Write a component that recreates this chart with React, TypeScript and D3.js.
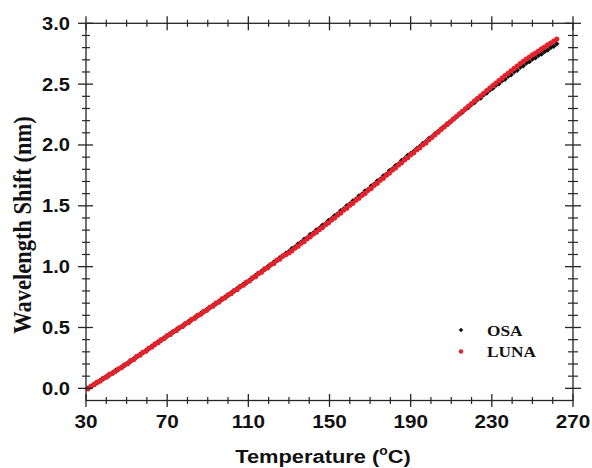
import React from "react";
import * as d3 from "d3";

const temps = [
  31, 32.5, 34, 35.5, 37, 38.5, 40, 41.5, 43, 44.5, 46, 47.5, 49, 50.5, 52, 53.5, 55, 56.5, 58, 59.5,
  61, 62.5, 64, 65.5, 67, 68.5, 70, 71.5, 73, 74.5, 76, 77.5, 79, 80.5, 82, 83.5, 85, 86.5, 88, 89.5,
  91, 92.5, 94, 95.5, 97, 98.5, 100, 101.5, 103, 104.5, 106, 107.5, 109, 110.5, 112, 113.5, 115, 116.5, 118, 119.5,
  121, 122.5, 124, 125.5, 127, 128.5, 130, 131.5, 133, 134.5, 136, 137.5, 139, 140.5, 142, 143.5, 145, 146.5, 148, 149.5,
  151, 152.5, 154, 155.5, 157, 158.5, 160, 161.5, 163, 164.5, 166, 167.5, 169, 170.5, 172, 173.5, 175, 176.5, 178, 179.5,
  181, 182.5, 184, 185.5, 187, 188.5, 190, 191.5, 193, 194.5, 196, 197.5, 199, 200.5, 202, 203.5, 205, 206.5, 208, 209.5,
  211, 212.5, 214, 215.5, 217, 218.5, 220, 221.5, 223, 224.5, 226, 227.5, 229, 230.5, 232, 233.5, 235, 236.5, 238, 239.5,
  241, 242.5, 244, 245.5, 247, 248.5, 250, 251.5, 253, 254.5, 256, 257.5, 259, 260.5, 262,
];

const osa = [
  0.002, 0.014, 0.035, 0.046, 0.066, 0.077, 0.098, 0.108, 0.129, 0.146, 0.155, 0.176, 0.187, 0.209, 0.221, 0.243, 0.256, 0.279, 0.29, 0.311,
  0.324, 0.347, 0.359, 0.382, 0.393, 0.415, 0.428, 0.45, 0.461, 0.484, 0.494, 0.515, 0.527, 0.549, 0.56, 0.582, 0.593, 0.615, 0.626, 0.648,
  0.66, 0.682, 0.694, 0.716, 0.728, 0.751, 0.763, 0.786, 0.797, 0.82, 0.832, 0.855, 0.866, 0.889, 0.903, 0.927, 0.939, 0.963, 0.976, 1.0,
  1.012, 1.037, 1.049, 1.074, 1.086, 1.111, 1.124, 1.149, 1.161, 1.187, 1.2, 1.226, 1.238, 1.264, 1.276, 1.302, 1.315, 1.341, 1.353, 1.379,
  1.393, 1.419, 1.432, 1.459, 1.473, 1.5, 1.514, 1.54, 1.554, 1.581, 1.595, 1.621, 1.635, 1.662, 1.677, 1.704, 1.718, 1.746, 1.76, 1.788,
  1.802, 1.83, 1.844, 1.872, 1.886, 1.913, 1.93, 1.946, 1.972, 1.987, 2.012, 2.027, 2.053, 2.068, 2.093, 2.108, 2.134, 2.149, 2.174, 2.189,
  2.214, 2.229, 2.254, 2.269, 2.293, 2.308, 2.333, 2.348, 2.373, 2.387, 2.412, 2.427, 2.452, 2.466, 2.49, 2.503, 2.527, 2.541, 2.564, 2.578,
  2.601, 2.615, 2.639, 2.652, 2.674, 2.685, 2.706, 2.716, 2.737, 2.748, 2.769, 2.78, 2.801, 2.812, 2.832,
];

const luna = [
  -0.004, 0.019, 0.03, 0.051, 0.06, 0.083, 0.092, 0.114, 0.123, 0.14, 0.161, 0.171, 0.193, 0.203, 0.227, 0.237, 0.262, 0.272, 0.296, 0.305,
  0.331, 0.34, 0.365, 0.375, 0.4, 0.409, 0.434, 0.443, 0.467, 0.476, 0.5, 0.509, 0.533, 0.542, 0.566, 0.575, 0.599, 0.608, 0.632, 0.641,
  0.666, 0.675, 0.7, 0.709, 0.735, 0.744, 0.769, 0.778, 0.804, 0.812, 0.838, 0.847, 0.873, 0.882, 0.909, 0.918, 0.944, 0.954, 0.981, 0.99,
  1.017, 1.026, 1.053, 1.062, 1.088, 1.099, 1.113, 1.13, 1.153, 1.168, 1.192, 1.207, 1.23, 1.245, 1.268, 1.283, 1.306, 1.321, 1.345, 1.36,
  1.384, 1.4, 1.424, 1.44, 1.465, 1.481, 1.505, 1.521, 1.546, 1.562, 1.586, 1.602, 1.627, 1.643, 1.668, 1.685, 1.71, 1.727, 1.752, 1.769,
  1.794, 1.811, 1.836, 1.853, 1.878, 1.895, 1.92, 1.936, 1.961, 1.977, 2.001, 2.017, 2.042, 2.063, 2.084, 2.105, 2.127, 2.148, 2.169, 2.191,
  2.212, 2.234, 2.255, 2.277, 2.297, 2.319, 2.34, 2.362, 2.383, 2.404, 2.425, 2.447, 2.468, 2.489, 2.509, 2.529, 2.549, 2.57, 2.589, 2.61,
  2.629, 2.649, 2.669, 2.688, 2.706, 2.723, 2.74, 2.756, 2.772, 2.789, 2.805, 2.822, 2.838, 2.854, 2.87,
];

const xTickValues = [30, 70, 110, 150, 190, 230, 270];
const yTickValues = [0, 0.5, 1.0, 1.5, 2.0, 2.5, 3.0];
const seriesNames = ["OSA", "LUNA"];

const SANS = "'Liberation Sans', Arial, Helvetica, sans-serif";
const SERIF = "'Liberation Serif', 'Times New Roman', Times, serif";
const AX = "#262626";
const RED = "#e3222b";
const SX = 1.15;

export default function App() {
  const x = d3.scaleLinear().domain([30, 270]).range([86, 573]);
  const y = d3.scaleLinear().domain([-0.1, 3.0]).range([400.5, 23.3]);
  const [x0, x1] = x.range();
  const [yb, yt] = y.range();

  const xMinor = d3.range(30, 271, 10).filter((v) => !xTickValues.includes(v));
  const yMinor = d3
    .range(0, 31, 1)
    .map((v) => v / 10)
    .filter((v) => Math.round(v * 10) % 5 !== 0);

  const diamond = d3.symbol().type(d3.symbolSquare).size(15)();
  const diamondLegend = d3.symbol().type(d3.symbolSquare).size(11)();

  return (
    <svg
      width={592}
      height={468}
      style={{ position: "absolute", left: 0, top: 0, background: "#fff" }}
    >
      <rect x={0} y={0} width={592} height={468} fill="#fff" />

      {/* data */}
      <g>
        {temps.map((t, i) => (
          <path
            key={"o" + i}
            d={diamond}
            transform={`translate(${x(t)},${y(osa[i])}) rotate(45)`}
            fill="#111"
          />
        ))}
        {temps.map((t, i) => (
          <circle key={"l" + i} cx={x(t)} cy={y(luna[i])} r={2.6} fill={RED} />
        ))}
      </g>

      {/* frame */}
      <rect x={x0} y={yt} width={x1 - x0} height={yb - yt} fill="none" stroke={AX} strokeWidth={1.3} />

      {/* x ticks bottom & top */}
      {xTickValues.map((v) => (
        <g key={"xt" + v}>
          <line x1={x(v)} x2={x(v)} y1={yb - 6.5} y2={yb + 6.5} stroke={AX} strokeWidth={1.3} />
          <line x1={x(v)} x2={x(v)} y1={yt - 7} y2={yt + 7} stroke={AX} strokeWidth={1.3} />
          <text
            transform={`translate(${x(v)},${428}) scale(${SX},1)`}
            textAnchor="middle"
            fontFamily={SANS}
            fontWeight="bold"
            fontSize={18}
            fill="#111"
          >
            {v}
          </text>
        </g>
      ))}
      {xMinor.map((v) => (
        <g key={"xm" + v}>
          <line x1={x(v)} x2={x(v)} y1={yb - 3.5} y2={yb + 3.5} stroke={AX} strokeWidth={1.2} />
          <line x1={x(v)} x2={x(v)} y1={yt - 3.5} y2={yt + 3.5} stroke={AX} strokeWidth={1.2} />
        </g>
      ))}

      {/* y ticks left & right */}
      {yTickValues.map((v) => (
        <g key={"yt" + v}>
          <line x1={x0 - 8} x2={x0 + 7} y1={y(v)} y2={y(v)} stroke={AX} strokeWidth={1.3} />
          <line x1={x1 - 8} x2={x1 + 8} y1={y(v)} y2={y(v)} stroke={AX} strokeWidth={1.3} />
          <text
            transform={`translate(${70},${y(v) + 6.5}) scale(${SX},1)`}
            textAnchor="end"
            fontFamily={SANS}
            fontWeight="bold"
            fontSize={17.5}
            fill="#111"
          >
            {v.toFixed(1)}
          </text>
        </g>
      ))}
      {yMinor.map((v) => (
        <g key={"ym" + v}>
          <line x1={x0 - 4} x2={x0 + 4} y1={y(v)} y2={y(v)} stroke={AX} strokeWidth={1.2} />
          <line x1={x1 - 5} x2={x1 + 5} y1={y(v)} y2={y(v)} stroke={AX} strokeWidth={1.2} />
        </g>
      ))}

      {/* axis titles */}
      <text
        transform={`translate(${323},${463}) scale(${SX},1)`}
        textAnchor="middle"
        fontFamily={SANS}
        fontWeight="bold"
        fontSize={19}
        fill="#111"
      >
        Temperature (
        <tspan fontSize={12} dy={-8}>o</tspan>
        <tspan dy={8}>C)</tspan>
      </text>
      <text
        transform={`translate(${31},${225}) scale(${SX},1) rotate(-90)`}
        textAnchor="middle"
        fontFamily={SERIF}
        fontWeight="bold"
        fontSize={22.5}
        fill="#111"
      >
        Wavelength Shift (nm)
      </text>

      {/* legend */}
      <g>
        <path d={diamondLegend} transform={`translate(${461},${330}) rotate(45)`} fill="#111" />
        <text
          transform={`translate(${487},${335.5}) scale(${SX},1)`}
          fontFamily={SERIF}
          fontWeight="bold"
          fontSize={15}
          fill="#111"
        >
          {seriesNames[0]}
        </text>
        <circle cx={461} cy={351.5} r={2.2} fill={RED} />
        <text
          transform={`translate(${487},${357}) scale(${SX},1)`}
          fontFamily={SERIF}
          fontWeight="bold"
          fontSize={15}
          fill="#111"
        >
          {seriesNames[1]}
        </text>
      </g>
    </svg>
  );
}
